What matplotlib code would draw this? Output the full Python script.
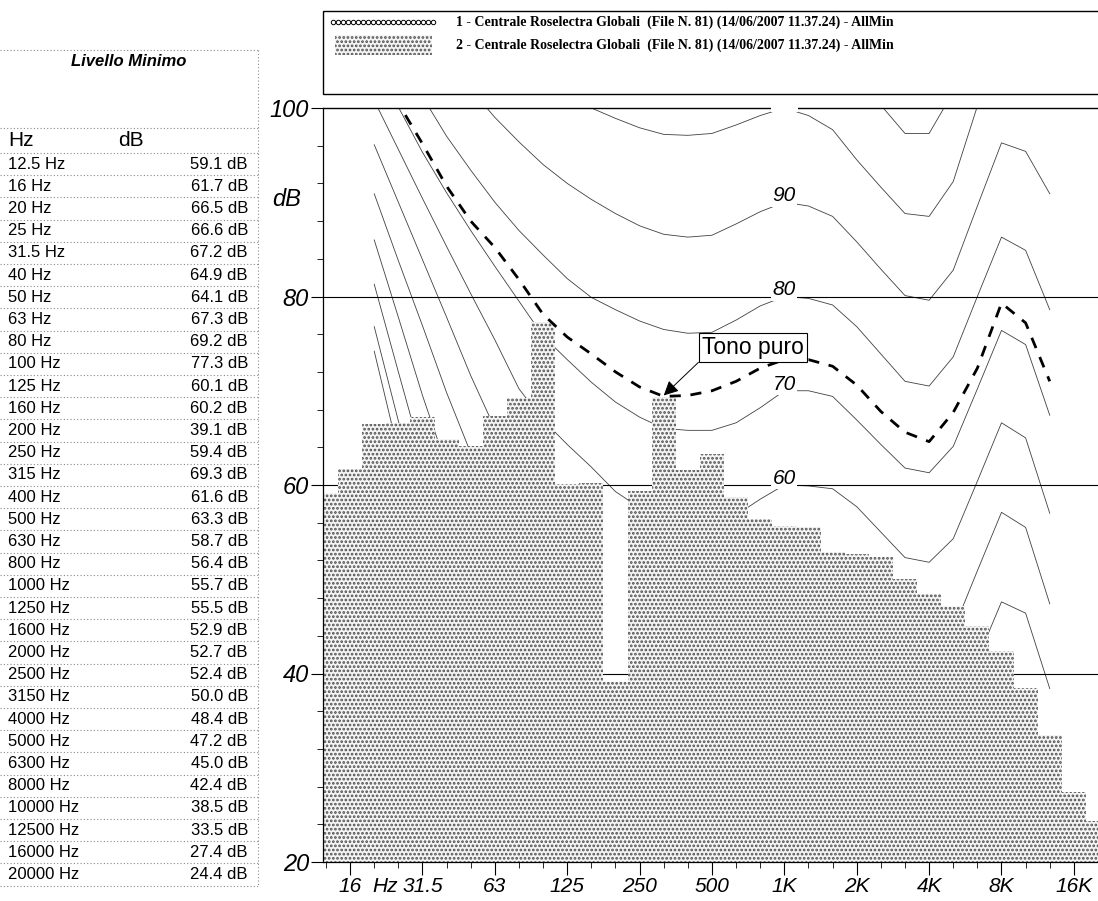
import numpy as np
import matplotlib.pyplot as plt
from matplotlib.patches import Rectangle

plt.rcParams['font.family'] = ['Liberation Sans', 'DejaVu Sans']
plt.rcParams['hatch.linewidth'] = 1.3

# third-octave bands and minimum levels (dB)
bands = ['12.5', '16', '20', '25', '31.5', '40', '50', '63', '80', '100', '125',
         '160', '200', '250', '315', '400', '500', '630', '800', '1000', '1250',
         '1600', '2000', '2500', '3150', '4000', '5000', '6300', '8000', '10000',
         '12500', '16000', '20000']
levels = [59.1, 61.7, 66.5, 66.6, 67.2, 64.9, 64.1, 67.3, 69.2, 77.3, 60.1,
          60.2, 39.1, 59.4, 69.3, 61.6, 63.3, 58.7, 56.4, 55.7, 55.5, 52.9,
          52.7, 52.4, 50.0, 48.4, 47.2, 45.0, 42.4, 38.5, 33.5, 27.4, 24.4]

# equal loudness contours, 20 Hz .. 12.5 kHz (band index 2..30); nan = not drawn
nan = np.nan
phon_0 = [74.2, 63.5, 53.0, 43.8, 35.8, 28.8, 22.5, 17.2, 12.8, 9.3, nan, 4.4, 2.8, 1.6, 1.0,
          0.6, 0.3, 0.0, -0.2, -0.4, -1.6, -3.8, -6.2, -6.5, -3.6, 1.9, 7.8, 8.0, 2.0]
phon_10 = [76.8, 66.8, 57.0, 48.2, 40.5, 33.8, 28.0, 23.0, 19.0, 15.8, nan, 11.6, 10.3, 9.5, 9.3,
           9.6, 9.9, 10.0, 10.2, 10.2, 8.9, 6.8, 4.5, 4.2, 7.3, 13.0, 18.9, 18.9, 12.5]
phon_20 = [81.3, 72.0, 62.8, 54.5, 47.3, 41.0, 35.6, 31.2, 27.6, 24.8, nan, 21.1, 19.9, 19.0, 18.8,
           19.2, 19.7, 20.0, 20.1, 20.0, 18.6, 16.2, 13.7, 13.3, 16.4, 22.3, 28.4, 28.0, 21.0]
phon_30 = [86.0, 77.8, 69.5, 62.0, 55.3, 49.5, 44.6, 40.6, 37.4, 34.7, nan, 30.9, 29.6, 28.6, 28.3,
           28.7, 29.4, 30.0, 30.0, 29.9, 28.4, 25.8, 23.2, 22.8, 25.8, 31.8, 38.0, 37.2, 29.6]
phon_40 = [90.9, 83.8, 76.9, 69.8, 63.4, 58.2, 53.8, 50.2, 47.2, 44.5, nan, 40.6, 39.2, 38.2, 37.8,
           38.2, 39.0, 40.0, 40.0, 39.8, 38.2, 35.5, 32.9, 32.4, 35.3, 41.5, 47.6, 46.4, 38.4]
phon_50 = [96.1, 90.0, 83.9, 77.8, 71.6, 66.0, 62.1, 58.8, 55.8, 53.2, nan, 49.5, 48.2, 47.3, 46.9,
           47.4, 48.7, 50.0, 50.0, 49.8, 48.1, 45.4, 42.7, 42.2, 44.6, 50.9, 57.1, 55.5, 47.4]
phon_60 = [100.8, 95.6, 90.4, 85.3, 80.3, 75.4, 70.2, 66.9, 64.3, 61.9, 59.3, 57.6, 56.5, 56.0, 55.9,
           56.8, 58.5, 60.0, 59.9, 59.6, 57.7, 55.0, 52.3, 51.8, 54.3, 60.4, 66.6, 65.0, 57.0]
phon_70 = [104.5, 100.1, 95.3, 91.0, 87.0, 83.2, 79.5, 75.8, 73.3, 70.9, 68.8, 67.2, 66.0, 65.8, 65.8,
           66.6, 68.2, 70.0, 70.0, 69.4, 66.9, 64.3, 61.8, 61.3, 64.1, 70.2, 76.4, 74.9, 67.4]
phon_80 = [112.0, 107.5, 101.2, 97.0, 93.4, 90.0, 87.0, 84.4, 81.9, 79.9, 78.6, 77.4, 76.5, 76.1, 76.2,
           77.5, 79.0, 80.0, 79.8, 79.1, 76.8, 73.9, 71.0, 70.5, 73.6, 80.0, 86.3, 84.9, 78.6]
phon_90 = [122.0, 117.0, 112.0, 107.0, 102.0, 99.0, 96.4, 94.0, 92.0, 90.3, 88.8, 87.5, 86.6, 86.3, 86.5,
           87.7, 89.0, 90.0, 89.6, 88.5, 85.8, 82.9, 80.1, 79.6, 82.8, 89.6, 96.3, 95.4, 90.9]
phon_100 = [130.0, 125.0, 120.0, 116.0, 112.0, 108.5, 105.5, 103.2, 101.4, 100.0, 98.9, 97.9, 97.2, 97.1, 97.3,
            98.2, 99.2, 100.0, 99.2, 97.7, 94.5, 91.6, 88.8, 88.5, 92.2, 100.2, 106.5, 105.5, 101.0]
phon_110 = [140.0, 135.0, 130.0, 125.0, 121.0, 117.5, 114.5, 112.0, 110.5, 109.5, 108.8, 108.0, 107.6, 107.5, 107.6,
            108.4, 109.3, 110.0, 109.2, 106.5, 103.3, 100.3, 97.3, 97.3, 101.7, 109.0, 116.0, 115.0, 111.0]
contours = [phon_0, phon_10, phon_20, phon_30, phon_40, phon_50, phon_60,
            phon_70, phon_80, phon_90, phon_100, phon_110]

# loudness curve through the pure tone (series 1)
tone_curve = [105.0, 100.5, 96.2, 91.7, 88.0, 85.2, 81.8, 78.1, 75.7, 73.9, 72.0, 70.4, 69.4, 69.5, 70.0,
              71.0, 72.4, 73.3, 73.3, 72.6, 70.6, 67.8, 65.6, 64.6, 67.7, 72.4, 79.3, 77.2, 71.0]

octave_idx = [1, 4, 7, 10, 13, 16, 19, 22, 25, 28, 31]
octave_labels = ['16', '31.5', '63', '125', '250', '500', '1K', '2K', '4K', '8K', '16K']
series_1 = '1 - Centrale Roselectra Globali  (File N. 81) (14/06/2007 11.37.24) - AllMin'
series_2 = '2 - Centrale Roselectra Globali  (File N. 81) (14/06/2007 11.37.24) - AllMin'

W, H = 1098, 901
fig = plt.figure(figsize=(W / 100, H / 100), dpi=100)

# pixel-space layer for the table and the legend panel
pax = fig.add_axes([0, 0, 1, 1])
pax.set_xlim(0, W)
pax.set_ylim(H, 0)
pax.axis('off')

ax = fig.add_axes([323 / W, 1 - 862 / H, (1098 - 323) / W, (862 - 108) / H])
x0, step = 326.0, 24.27
ax.set_xlim((323 - x0) / step, (1098 - x0) / step)
ax.set_ylim(20, 100)

idx = np.arange(len(levels))
cidx = np.arange(2, 31)

bar_face, bar_dots = '#f4f4f4', '#505050'
ax.bar(idx, np.array(levels) - 20, bottom=20, width=1.0, facecolor=bar_face,
       edgecolor=bar_dots, linewidth=0, hatch='....', zorder=2)

for c in contours:
    ax.plot(cidx, c, color='#404040', lw=0.6, zorder=1)

for y in (40, 60, 80):
    ax.axhline(y, color='black', lw=0.8, zorder=1)
ax.axhline(100, color='black', lw=1.0, zorder=1.5, clip_on=False)

for lvl in (60, 70, 80, 90):
    ax.text(19, lvl + 0.7, str(lvl), ha='center', va='center', fontsize=15, style='italic',
            bbox=dict(fc='white', ec='none', pad=1.0), zorder=3)
# gap left by the 100 label above the frame
ax.add_patch(Rectangle((18.45, 99.6), 1.1, 0.8, fc='white', ec='none', zorder=3, clip_on=False))

ax.plot(cidx, tone_curve, color='black', lw=2.0, dashes=(4.0, 3.5), zorder=4)

ax.annotate('Tono puro', xy=(14.0, 69.5), xytext=(17.7, 74.6), ha='center', va='center',
            fontsize=16.5, zorder=6,
            bbox=dict(boxstyle='square,pad=0.14', fc='white', ec='black', lw=0.8),
            arrowprops=dict(arrowstyle='-|>', mutation_scale=22, lw=0.7, color='black',
                            relpos=(0.0, 0.0), shrinkA=0, shrinkB=0))

ax.set_xticks(octave_idx)
ax.set_xticklabels(octave_labels)
ax.set_xticks(idx, minor=True)
ax.set_yticks([20, 40, 60, 80, 100])
ax.set_yticks(np.arange(20, 101, 4), minor=True)
ax.tick_params(axis='x', which='major', length=9, width=0.8, labelsize=15, pad=2)
ax.tick_params(axis='x', which='minor', length=4, width=0.6)
ax.tick_params(axis='y', which='major', length=9, width=0.8, labelsize=17, pad=1)
ax.tick_params(axis='y', which='minor', length=4, width=0.6)
for t in ax.get_xticklabels() + ax.get_yticklabels():
    t.set_style('italic')
ax.annotate('Hz', xy=(2.45, 0), xycoords=('data', 'axes fraction'), xytext=(0, -11),
            textcoords='offset points', ha='center', va='top', fontsize=15, style='italic')
for s in ('top', 'right'):
    ax.spines[s].set_visible(False)
for s in ('left', 'bottom'):
    ax.spines[s].set_linewidth(0.9)

pax.text(287, 200, 'dB', ha='center', va='center', fontsize=17, style='italic')

# legend panel
pax.add_patch(Rectangle((322.5, 10.5), 800, 83, fill=False, ec='black', lw=1.0, clip_on=False))
pax.plot(np.linspace(333, 433, 21), [22] * 21, lw=0, marker='o', ms=3.2, mfc='white',
         mec='black', mew=0.7)
pax.add_patch(Rectangle((335, 35), 97, 20, fc=bar_face, ec=bar_dots, lw=0, hatch='....'))
serif = dict(family=['Liberation Serif', 'DejaVu Serif'], weight='bold', fontsize=10, va='center')
pax.text(456, 22, series_1, **serif)
pax.text(456, 45, series_2, **serif)

# table of levels
dot = dict(color='#8a8a8a', lw=0.8, ls=(0, (1, 2)))
row_h = 22.2
top_row = 153
pax.text(129, 62, 'Livello Minimo', ha='center', va='center', fontsize=12,
         style='italic', weight='bold')
pax.text(8, 141, 'Hz', va='center', fontsize=15)
pax.text(131, 141, 'dB', ha='center', va='center', fontsize=15)
for y in (50, 128, top_row):
    pax.plot([0, 258], [y, y], **dot)
for k, (b, v) in enumerate(zip(bands, levels)):
    yc = top_row + row_h * (k + 0.5)
    pax.text(8, yc, f'{b} Hz', va='center', fontsize=12)
    pax.text(248, yc, f'{v:.1f} dB', ha='right', va='center', fontsize=12)
    pax.plot([0, 258], [yc + row_h / 2] * 2, **dot)
pax.plot([258, 258], [50, top_row + row_h * len(levels)], **dot)

fig.savefig('out.png', dpi=100)
